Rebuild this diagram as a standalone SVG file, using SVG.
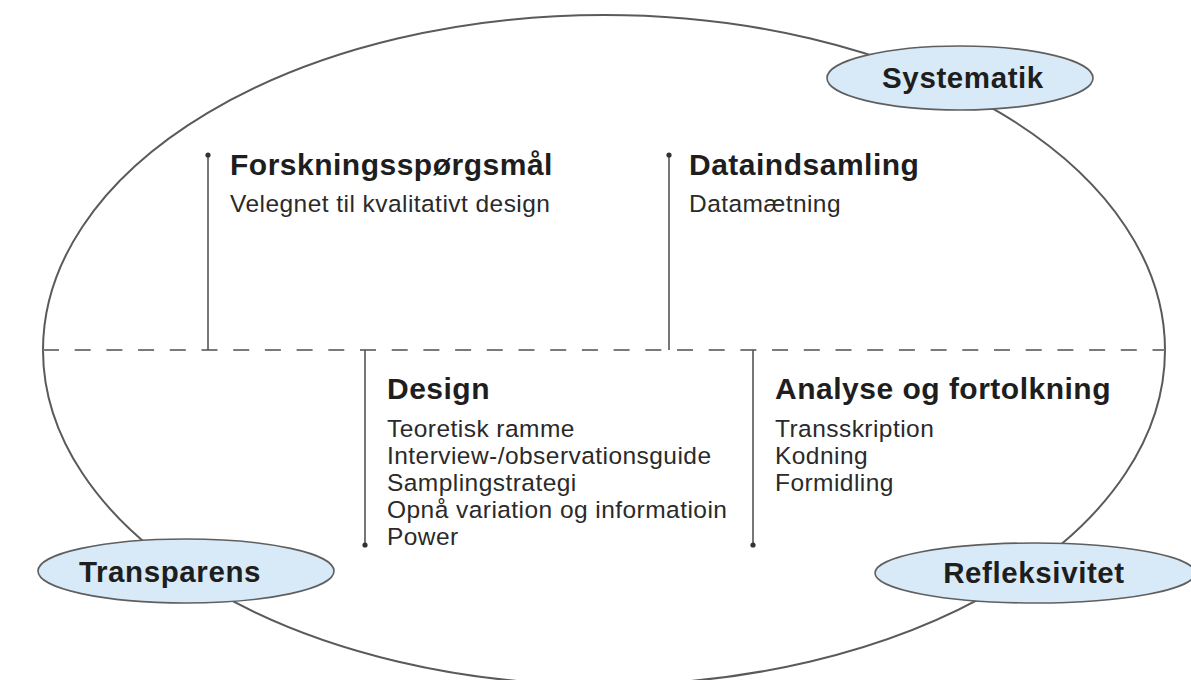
<svg xmlns="http://www.w3.org/2000/svg" width="1191" height="680" viewBox="0 0 1191 680">
  <style>
    .outline { fill: none; stroke: #5a5a5a; stroke-width: 2; }
    .divider { stroke: #7a7a7a; stroke-width: 2; stroke-dasharray: 16 15.7; fill: none; }
    .rule { stroke: #555; stroke-width: 1.6; fill: none; }
    .dot { fill: #333; }
    .badge { fill: #d8eaf8; stroke: #5f5f5f; stroke-width: 1.6; }
    .title { font-family: "Liberation Sans", Arial, sans-serif; font-weight: bold; font-size: 30px; letter-spacing: 0.5px; fill: #1e1e1e; }
    .body { font-family: "Liberation Sans", Arial, sans-serif; font-size: 24.5px; letter-spacing: 0.45px; fill: #2a2a2a; }
    .label { font-family: "Liberation Sans", Arial, sans-serif; font-weight: bold; font-size: 29.5px; letter-spacing: 0.6px; fill: #1e1e1e; text-anchor: middle; }
  </style>

  <rect width="1191" height="680" fill="#ffffff"/>

  <!-- outer cycle and the horizontal divider -->
  <ellipse class="outline" cx="604" cy="350" rx="561" ry="335"/>

  <g id="connectors">
    <line class="divider" x1="43" y1="350" x2="1165" y2="350"/>
    <line class="rule" x1="208" y1="155" x2="208" y2="350"/>
    <circle class="dot" cx="208" cy="155" r="2.6"/>
    <line class="rule" x1="669" y1="155" x2="669" y2="350"/>
    <circle class="dot" cx="669" cy="155" r="2.6"/>
    <line class="rule" x1="365" y1="350" x2="365" y2="545"/>
    <circle class="dot" cx="365" cy="545" r="2.6"/>
    <line class="rule" x1="753" y1="350" x2="753" y2="545"/>
    <circle class="dot" cx="753" cy="545" r="2.6"/>
  </g>

  <g id="forskningsspoergsmaal">
    <text class="title" x="230" y="175">Forskningsspørgsmål</text>
    <text class="body" x="230" y="212">Velegnet til kvalitativt design</text>
  </g>

  <g id="dataindsamling">
    <text class="title" x="689" y="175">Dataindsamling</text>
    <text class="body" x="689" y="212">Datamætning</text>
  </g>

  <g id="design">
    <text class="title" x="387" y="399">Design</text>
    <text class="body" x="387" y="437">Teoretisk ramme</text>
    <text class="body" x="387" y="464">Interview-/observationsguide</text>
    <text class="body" x="387" y="491">Samplingstrategi</text>
    <text class="body" x="387" y="518">Opnå variation og informatioin</text>
    <text class="body" x="387" y="545">Power</text>
  </g>

  <g id="analyse">
    <text class="title" x="775" y="399">Analyse og fortolkning</text>
    <text class="body" x="775" y="437">Transskription</text>
    <text class="body" x="775" y="464">Kodning</text>
    <text class="body" x="775" y="491">Formidling</text>
  </g>

  <g id="systematik">
    <ellipse class="badge" cx="960" cy="78" rx="133" ry="32"/>
    <text class="label" x="963" y="88">Systematik</text>
  </g>

  <g id="transparens">
    <ellipse class="badge" cx="186" cy="571" rx="148" ry="32"/>
    <text class="label" x="170" y="582">Transparens</text>
  </g>

  <g id="refleksivitet">
    <ellipse class="badge" cx="1035" cy="573" rx="160" ry="30"/>
    <text class="label" x="1034" y="583">Refleksivitet</text>
  </g>
</svg>
